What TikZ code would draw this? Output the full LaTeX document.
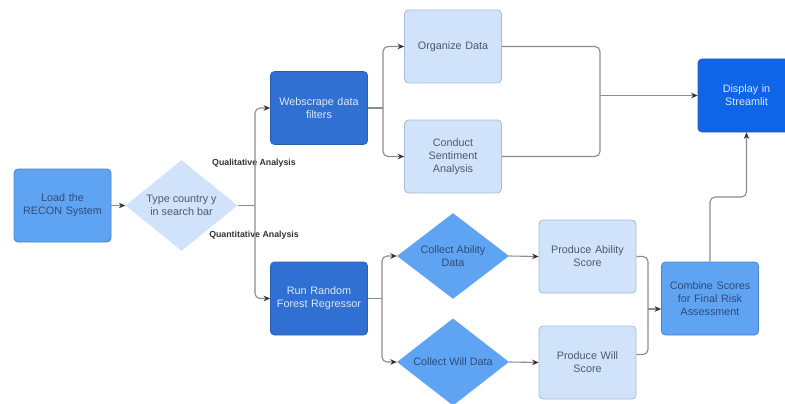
\documentclass[tikz,border=0pt]{standalone}
\usepackage{fontspec}
\setmainfont{Liberation Sans}
\usetikzlibrary{shapes.geometric,arrows.meta}
\definecolor{paleblue}{HTML}{D0E3FB}
\definecolor{paleedge}{HTML}{A6BCDB}
\definecolor{paletext}{HTML}{4A5A72}
\definecolor{midblue}{HTML}{5FA4F3}
\definecolor{midedge}{HTML}{4C84C9}
\definecolor{midtext}{HTML}{2E4B77}
\definecolor{deepblue}{HTML}{2F70D2}
\definecolor{deepedge}{HTML}{2A5FAE}
\definecolor{deeptext}{HTML}{DDE9FB}
\definecolor{brightblue}{HTML}{0E65E7}
\definecolor{linegray}{HTML}{8C8C8C}
\definecolor{tagtext}{HTML}{333333}
\begin{document}
\begin{tikzpicture}[x=1pt,y=-1pt,>={Stealth[length=6.5pt,width=5.5pt,color=black!80]},
  font=\fontsize{10.8}{13}\selectfont,
  box/.style={rectangle,rounded corners=4pt,minimum width=97pt,minimum height=73pt,
    text width=90pt,inner sep=2pt,align=center,line width=0.8pt},
  pale/.style={box,fill=paleblue,draw=paleedge,text=paletext},
  mid/.style={box,fill=midblue,draw=midedge,text=midtext},
  deep/.style={box,fill=deepblue,draw=deepedge,text=deeptext},
  bright/.style={box,fill=brightblue,draw=deepedge,text=deeptext},
  choice/.style={diamond,inner sep=0pt,minimum width=112pt,minimum height=85pt,align=center},
  flow/.style={draw=linegray,line width=1.1pt,rounded corners=5pt},
  tag/.style={font=\fontsize{8.8}{10}\selectfont\bfseries,text=tagtext}]
  \clip (0,0) rectangle (785,404);
  \fill[white] (0,0) rectangle (785,404);
  % nodes
  \node[mid] (load) at (62.5,205.5) {Load the\\RECON System};
  \node[choice,fill=paleblue,text=paletext] (type) at (181.5,205.5) {Type country y\\in search bar};
  \node[deep] (web) at (319,108) {Webscrape data\\filters};
  \node[deep] (rf) at (319,298.5) {Run Random\\Forest Regressor};
  \node[pale] (org) at (453,46.5) {Organize Data};
  \node[pale] (sent) at (453,156.5) {Conduct\\Sentiment\\Analysis};
  \node[bright] (disp) at (746.5,95.5) {Display in\\Streamlit};
  \node[choice,fill=midblue,text=midtext] (cab) at (453,256) {Collect Ability\\Data};
  \node[choice,fill=midblue,text=midtext] (cwill) at (453,362) {Collect Will Data};
  \node[pale] (pab) at (587.5,256.5) {Produce Ability\\Score};
  \node[pale] (pwill) at (587.5,362.5) {Produce Will\\Score};
  \node[mid] (comb) at (710,298.5) {Combine Scores\\for Final Risk\\Assessment};
  \node[tag] (qual) at (254,163) {Qualitative Analysis};
  \node[tag] (quant) at (254,235) {Quantitative Analysis};
  % junctions
  \coordinate (fork) at (255,205.5);
  \coordinate (wsplit) at (383,108);
  \coordinate (rsplit) at (382,298.5);
  \coordinate (dmerge) at (600,95.5);
  \coordinate (smerge) at (648,309);
  \coordinate (bend) at (710,197);
  % connectors
  \draw[flow,->] (load) -- (type);
  \draw[flow] (type.east) -- (fork);
  \draw[flow,->] (fork) |- (web.west);
  \draw[flow,->] (fork) |- (rf.west);
  \draw[flow] (web.east) -- (wsplit);
  \draw[flow,->] (wsplit) |- (org.west);
  \draw[flow,->] (wsplit) |- (sent.west);
  \draw[flow] (org.east) -| (dmerge);
  \draw[flow] (sent.east) -| (dmerge);
  \draw[flow,->] (dmerge) -- (disp.west);
  \draw[flow] (rf.east) -- (rsplit);
  \draw[flow,->] (rsplit) |- (cab.west);
  \draw[flow,->] (rsplit) |- (cwill.west);
  \draw[flow,->] (cab.east) -- (pab.west);
  \draw[flow,->] (cwill.east) -- (pwill.west);
  \draw[flow] (pab.east) -| (smerge);
  \draw[flow] ([yshift=8pt]pwill.east) -| (smerge);
  \draw[flow,->] (smerge) -- (smerge -| comb.west);
  \draw[flow,->] (comb.north) -- (bend) -| (disp.south);
\end{tikzpicture}
\end{document}
